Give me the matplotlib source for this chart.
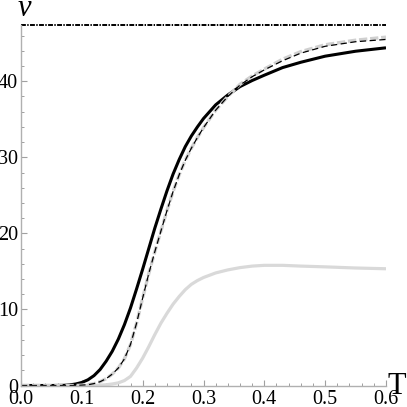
import matplotlib
matplotlib.use('Agg')
from matplotlib import pyplot as plt
from matplotlib.ticker import MultipleLocator

plt.rcParams['font.family'] = ['Liberation Serif', 'DejaVu Serif']
plt.rcParams['lines.scale_dashes'] = False

# black solid curve
t_black = [0.00, 0.05, 0.07, 0.08, 0.09, 0.10, 0.11, 0.12, 0.13, 0.14, 0.15, 0.16,
           0.17, 0.18, 0.19, 0.20, 0.21, 0.22, 0.23, 0.24, 0.25, 0.26, 0.27, 0.28,
           0.29, 0.30, 0.32, 0.34, 0.36, 0.38, 0.40, 0.43, 0.46, 0.50, 0.55, 0.60]
nu_black = [0, 0, 0.02, 0.08, 0.2, 0.4, 0.75, 1.3, 2.1, 3.2, 4.5, 6.1,
            8.0, 10.2, 12.7, 15.3, 18.0, 20.7, 23.2, 25.6, 27.8, 29.7, 31.4, 32.8,
            34.0, 35.1, 36.9, 38.2, 39.3, 40.1, 40.8, 41.8, 42.5, 43.3, 43.95, 44.4]

# dashed curves (black thin, gray thick)
t_dash = [0.00, 0.09, 0.11, 0.12, 0.13, 0.14, 0.15, 0.16, 0.17, 0.18, 0.19, 0.20,
          0.21, 0.22, 0.23, 0.24, 0.25, 0.26, 0.27, 0.28, 0.29, 0.30, 0.32, 0.34,
          0.36, 0.38, 0.40, 0.43, 0.46, 0.50, 0.55, 0.60]
nu_dash_black = [0, 0, 0.1, 0.25, 0.5, 0.9, 1.5, 2.3, 3.5, 5.4, 8.2, 11.5,
                 14.7, 17.6, 20.3, 23.0, 25.5, 27.7, 29.6, 31.2, 32.6, 33.9, 36.2, 38.0,
                 39.5, 40.6, 41.5, 42.7, 43.7, 44.6, 45.2, 45.5]
nu_dash_gray = [0, 0, 0.1, 0.25, 0.5, 0.9, 1.5, 2.3, 3.5, 5.4, 8.2, 11.5,
                14.7, 17.6, 20.3, 23.0, 25.5, 27.7, 29.6, 31.2, 32.6, 33.9, 36.2, 38.0,
                39.6, 40.7, 41.6, 42.9, 43.9, 44.8, 45.4, 45.8]

# gray solid curve
t_gray = [0.00, 0.12, 0.14, 0.15, 0.16, 0.17, 0.18, 0.19, 0.20, 0.21, 0.22, 0.23,
          0.24, 0.25, 0.26, 0.27, 0.28, 0.29, 0.30, 0.31, 0.32, 0.34, 0.36, 0.38,
          0.40, 0.43, 0.46, 0.50, 0.55, 0.60]
nu_gray = [0, 0, 0.1, 0.2, 0.35, 0.65, 1.2, 2.3, 3.6, 5.1, 6.7, 8.2,
           9.5, 10.7, 11.7, 12.6, 13.3, 13.8, 14.2, 14.5, 14.8, 15.2, 15.5, 15.7,
           15.8, 15.8, 15.7, 15.6, 15.45, 15.35]

nu_max = 47.4

fig = plt.figure(figsize=(4.07, 4.07), dpi=100)
ax = fig.add_axes([0.0516, 0.0528, 0.8968, 0.8858])

ax.plot(t_gray, nu_gray, color='#d9d9d9', lw=2.3, solid_capstyle='butt')
ax.plot(t_black, nu_black, color='black', lw=2.2, solid_capstyle='butt')
ax.plot(t_dash, nu_dash_gray, color='#d0d0d0', lw=2.4, dashes=(6, 2))
ax.plot(t_dash, nu_dash_black, color='black', lw=0.9, dashes=(4.5, 2.5))
ax.axhline(nu_max, color='black', lw=1.4, dashes=(3.5, 1, 1, 1), clip_on=False)

ax.set_xlim(0, 0.6)
ax.set_ylim(0, nu_max)

for s in ['top', 'right']:
    ax.spines[s].set_visible(False)
for s in ['left', 'bottom']:
    ax.spines[s].set_color('#b0b0b0')
    ax.spines[s].set_linewidth(1.0)

ax.xaxis.set_minor_locator(MultipleLocator(0.02))
ax.yaxis.set_minor_locator(MultipleLocator(2))
ax.set_xticks([0.0, 0.1, 0.2, 0.3, 0.4, 0.5, 0.6])
ax.set_xticklabels(['0.0', '0.1', '0.2', '0.3', '0.4', '0.5', '0.6'])
ax.set_yticks([0, 10, 20, 30, 40])

ax.tick_params(which='both', direction='in', color='#a0a0a0', labelsize=14.5)
ax.tick_params(which='major', length=4.5, width=0.8)
ax.tick_params(which='minor', length=2.5, width=0.7)
ax.tick_params(axis='x', pad=3)
ax.tick_params(axis='y', pad=2)

fig.text(397 / 407, 1 - 387 / 407, 'T', fontsize=22, ha='center', va='center')
fig.text(24.5 / 407, 1 - 8 / 407, 'ν', fontsize=22, style='italic', ha='center', va='center')

fig.savefig('out.png', dpi=100)
